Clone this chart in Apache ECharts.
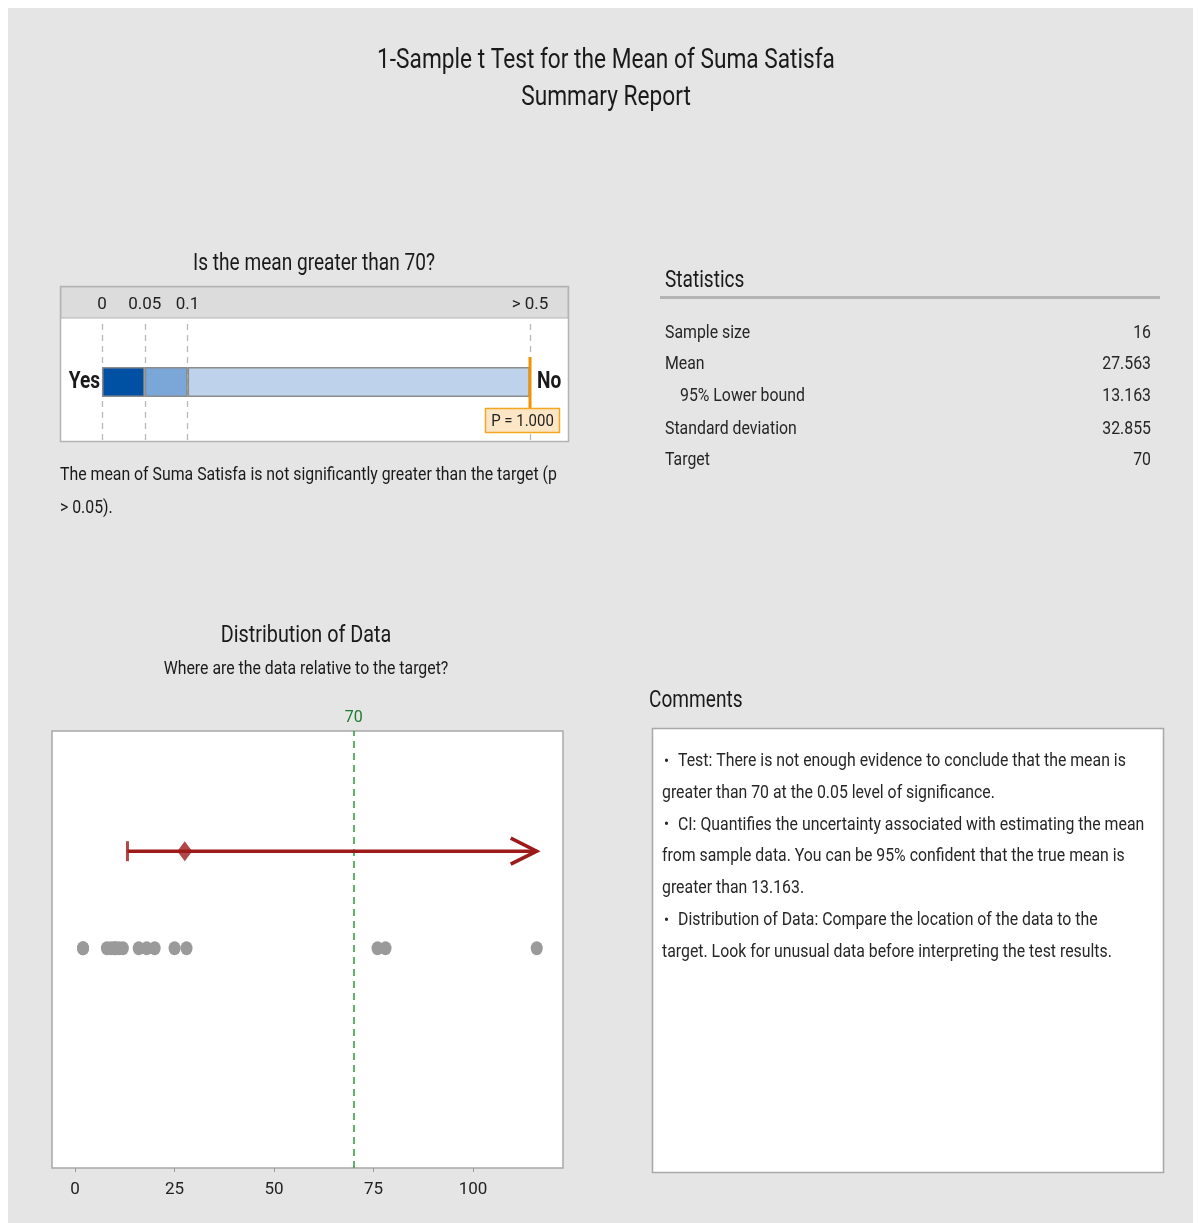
<!DOCTYPE html>
<html><head><meta charset="utf-8">
<script src="https://cdn.jsdelivr.net/npm/echarts@6/dist/echarts.min.js"></script>
<style>html,body{margin:0;padding:0;background:#fff}#c{width:1198px;height:1223px}</style>
</head><body><div id="c"></div>
<script>
// ---- data ----
const dataValues = [2, 2, 8, 9, 10, 10, 11, 12, 16, 18, 20, 25, 28, 76, 78, 116];
const targetValue = 70;
const meanValue = 27.563;
const lowerBound = 13.163;
const pValue = 1.000;
const pTicks = [0, 0.05, 0.1, 0.5];
const pTickLabels = ['0', '0.05', '0.1', '> 0.5'];
const pSegments = [0.05, 0.05, 0.4];
const xTicks = [0, 25, 50, 75, 100];
const statLabels = ['Sample size', 'Mean', '95% Lower bound', 'Standard deviation', 'Target'];
const statValues = ['16', '27.563', '13.163', '32.855', '70'];
const commentLines = [
  ['•', 'Test: There is not enough evidence to conclude that the mean is'],
  ['', 'greater than 70 at the 0.05 level of significance.'],
  ['•', 'CI: Quantifies the uncertainty associated with estimating the mean'],
  ['', 'from sample data. You can be 95% confident that the true mean is'],
  ['', 'greater than 13.163.'],
  ['•', 'Distribution of Data: Compare the location of the data to the'],
  ['', 'target. Look for unusual data before interpreting the test results.']
];

// ---- style / layout ----
const FONT = 'Roboto, "Open Sans", sans-serif';
const AXFONT = 'Roboto, sans-serif';
const SX_HEAD = 0.83;
const SX_BODY = 0.88;
const INK = '#1a1a1a';
const ROW_CI = 0.725, ROW_DATA = 0.503;
const pMax = pTicks[pTicks.length - 1];
const ciEnd = Math.max(...dataValues);

function txt(text, x, y, size, o) {
  o = o || {};
  return {
    type: 'text', x: x, y: y + 1.5, scaleX: o.sx || (size >= 22 ? SX_HEAD : SX_BODY), z: 5,
    style: {
      text: text, fontSize: size, fontFamily: FONT,
      fontWeight: o.bold ? 'bold' : 'normal', fill: o.color || INK,
      align: o.align || 'left', verticalAlign: 'middle'
    }
  };
}

const g = [];
// outer white margin
g.push({type:'rect', shape:{x:0,y:0,width:1198,height:8}, style:{fill:'#fff'}, z:0});
g.push({type:'rect', shape:{x:0,y:0,width:8,height:1223}, style:{fill:'#fff'}, z:0});
g.push({type:'rect', shape:{x:1193,y:0,width:5,height:1223}, style:{fill:'#fff'}, z:0});
// titles
g.push(txt('1-Sample t Test for the Mean of Suma Satisfa', 606, 60, 27, {align:'center', sx: 0.84}));
g.push(txt('Summary Report', 606, 97, 27, {align:'center', sx: 0.84}));
// p-value panel
g.push(txt('Is the mean greater than 70?', 314, 263, 23, {align:'center'}));
g.push({type:'rect', shape:{x:60.5,y:286.5,width:508,height:155}, style:{fill:'#fff', stroke:'#b4b4b4', lineWidth:1.5}, z:0});
g.push({type:'rect', shape:{x:61,y:287,width:507,height:31}, style:{fill:'#dcdcdc', stroke:'#b4b4b4', lineWidth:1}, z:0});
g.push(txt('Yes', 100, 381, 23, {align:'right', bold:true}));
g.push(txt('No', 537, 381, 23, {align:'left', bold:true}));
g.push(txt('The mean of Suma Satisfa is not significantly greater than the target (p', 60, 474, 18));
g.push(txt('> 0.05).', 60, 507, 18));
// statistics
g.push(txt('Statistics', 665, 280, 23));
g.push({type:'rect', shape:{x:660,y:296,width:500,height:3}, style:{fill:'#b4b4b4'}, z:0});
const statY = [332, 363, 395, 428, 459];
statLabels.forEach((s, i) => {
  g.push(txt(s, i === 2 ? 680 : 665, statY[i], 18, {color:'#262626'}));
  g.push(txt(statValues[i], 1151, statY[i], 18, {align:'right', color:'#262626'}));
});
// distribution
g.push(txt('Distribution of Data', 306, 635, 23, {align:'center', sx: 0.86}));
g.push(txt('Where are the data relative to the target?', 306, 668, 18, {align:'center'}));
// comments
g.push(txt('Comments', 649, 700, 23));
g.push({type:'rect', shape:{x:652.5,y:728.5,width:511,height:444}, style:{fill:'#fff', stroke:'#a8a8a8', lineWidth:1.5}, z:0});
commentLines.forEach((l, i) => {
  const y = 760 + i * 31.8;
  if (l[0]) {
    g.push(txt(l[0], 664, y, 17, {color:'#262626'}));
    g.push(txt(l[1], 678, y, 18, {color:'#262626'}));
  } else {
    g.push(txt(l[1], 662, y, 18, {color:'#262626'}));
  }
});

const chart = echarts.init(document.getElementById('c'), null, {renderer:'canvas'});
chart.setOption({
  backgroundColor: '#e5e5e5',
  animation: false,
  graphic: {elements: g},
  grid: [
    {left: 102, top: 324, width: 428, height: 116, show: false},
    {left: 52, top: 731, width: 511, height: 437, show: true, backgroundColor: '#fff', borderColor: '#a8a8a8', borderWidth: 1.5}
  ],
  xAxis: [
    {gridIndex: 0, type: 'value', min: 0, max: pMax, position: 'top', z: 10,
     axisLine: {show: false}, axisTick: {show: false, customValues: pTicks}, splitLine: {show: false},
     axisLabel: {customValues: pTicks, margin: 11, fontSize: 17, fontFamily: AXFONT, color: '#222',
       formatter: v => pTickLabels[pTicks.indexOf(v)] ?? ''}},
    {gridIndex: 1, type: 'value', min: -5.8, max: 122.6, position: 'bottom', z: 10,
     axisLine: {show: false}, splitLine: {show: false},
     axisTick: {show: true, customValues: xTicks, length: 4, lineStyle: {color: '#999'}},
     axisLabel: {customValues: xTicks, margin: 13, fontSize: 17, fontFamily: AXFONT, color: '#222'}}
  ],
  yAxis: [
    {gridIndex: 0, type: 'category', data: ['p'], show: false},
    {gridIndex: 1, type: 'value', min: 0, max: 1, show: false}
  ],
  series: [
    // p-value bar segments
    ...pSegments.map((v, i) => ({
      type: 'bar', xAxisIndex: 0, yAxisIndex: 0, stack: 'p', barWidth: 30, z: 3,
      data: [v],
      itemStyle: {color: ['#0050a4', '#7aa6d8', '#bed2ec'][i], borderColor: '#8c8c8c', borderWidth: 1.5},
      markLine: i === 0 ? {
        silent: true, symbol: 'none', label: {show: false}, z: 1,
        lineStyle: {color: '#b8b8b8', type: [6, 5], width: 1.3},
        data: pTicks.map(t => ({xAxis: t}))
      } : undefined
    })),
    // p marker + label
    {
      type: 'custom', xAxisIndex: 0, yAxisIndex: 0, z: 6,
      data: [[Math.min(pValue, pMax), 0]],
      renderItem: (params, api) => {
        const pt = api.coord([api.value(0), 0]);
        return {type: 'group', children: [
          {type: 'line', shape: {x1: pt[0], y1: pt[1] - 25, x2: pt[0], y2: pt[1] + 26}, style: {stroke: '#f39200', lineWidth: 3}},
          {type: 'rect', shape: {x: pt[0] - 44.5, y: pt[1] + 26.5, width: 74, height: 24}, style: {fill: '#fde6c6', stroke: '#f5a623', lineWidth: 1.5}},
          {type: 'text', x: pt[0] - 7.5, y: pt[1] + 39.5, scaleX: SX_BODY,
           style: {text: 'P = ' + pValue.toFixed(3), fontSize: 17, fontFamily: FONT, fill: '#222', align: 'center', verticalAlign: 'middle'}}
        ]};
      }
    },
    // data dots
    {
      type: 'scatter', xAxisIndex: 1, yAxisIndex: 1, z: 3,
      symbolSize: [12, 14], itemStyle: {color: '#9a9a9a', opacity: 1},
      data: dataValues.map(v => [v, ROW_DATA]),
      markLine: {
        silent: true, symbol: 'none', z: 2,
        lineStyle: {color: '#2a9a3a', type: [7, 5], width: 1.5},
        label: {show: true, position: 'end', formatter: String(targetValue), color: '#1e7a2e', fontSize: 16, fontFamily: AXFONT, distance: 5},
        data: [{xAxis: targetValue}]
      }
    },
    // CI line
    {
      type: 'line', xAxisIndex: 1, yAxisIndex: 1, z: 4, showSymbol: false, silent: true,
      lineStyle: {color: '#9c1a1a', width: 3.5},
      data: [[lowerBound, ROW_CI], [ciEnd, ROW_CI]]
    },
    // lower bound cap
    {
      type: 'scatter', xAxisIndex: 1, yAxisIndex: 1, z: 5, symbol: 'rect', symbolSize: [3, 20],
      itemStyle: {color: '#9c1a1a'}, data: [[lowerBound, ROW_CI]]
    },
    // mean diamond
    {
      type: 'scatter', xAxisIndex: 1, yAxisIndex: 1, z: 5, symbol: 'diamond', symbolSize: [15, 20],
      itemStyle: {color: '#9c1a1a'}, data: [[meanValue, ROW_CI]]
    },
    // arrow head
    {
      type: 'custom', xAxisIndex: 1, yAxisIndex: 1, z: 5,
      data: [[ciEnd, ROW_CI]],
      renderItem: (params, api) => {
        const pt = api.coord([api.value(0), api.value(1)]);
        return {type: 'polyline', shape: {points: [[pt[0] - 26, pt[1] - 13], [pt[0], pt[1]], [pt[0] - 26, pt[1] + 13]]},
          style: {stroke: '#9c1a1a', lineWidth: 3.5, fill: null}};
      }
    }
  ]
});
</script></body></html>
